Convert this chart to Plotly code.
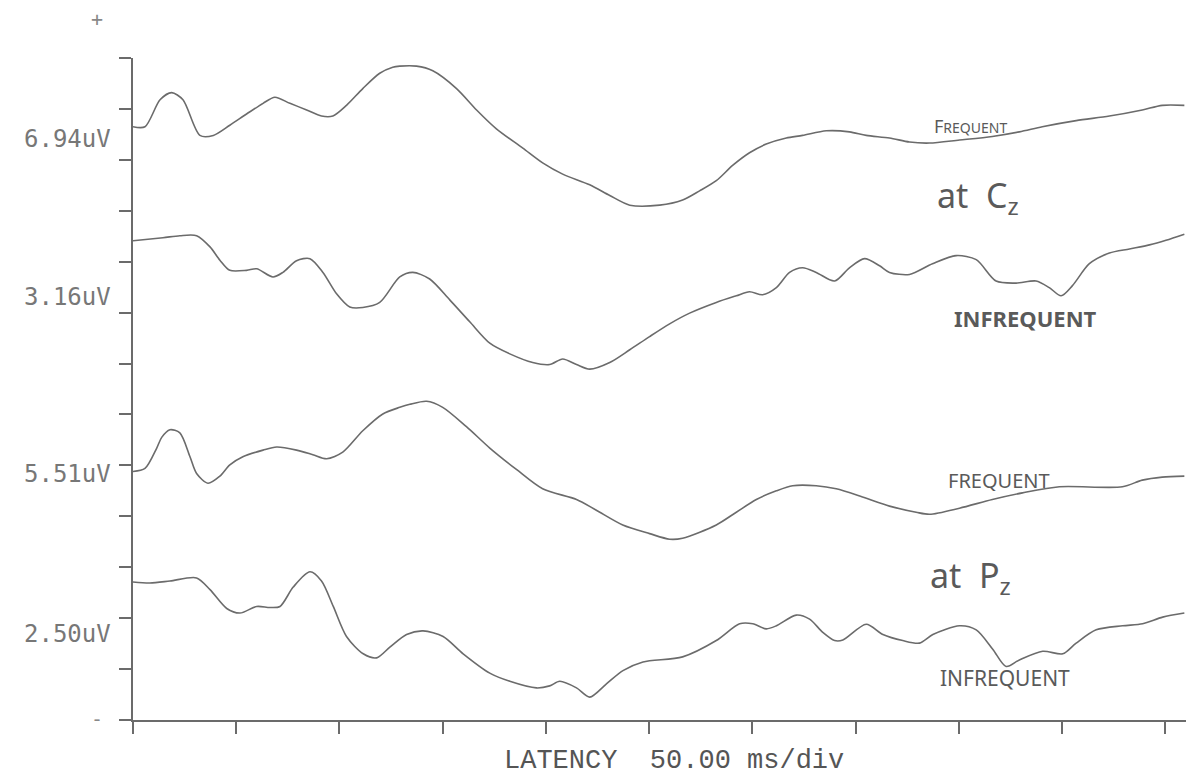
import plotly.graph_objects as go

# Latency (ms) and trace level (in vertical divisions) for the four averaged ERP traces
cz_freq_ms = [0, 5.8, 13.1, 18.7, 24.2, 32.4, 38.9, 46.9, 55.0, 63.0, 68.7, 76.0, 84.1, 91.3, 96.8, 103.4,
              111.3, 119.5, 125.8, 129.2, 137.3, 145.2, 156.7, 166.4, 176.0, 188.8, 198.4, 208.1, 221.2,
              230.9, 240.6, 255.1, 266.2, 274.4, 282.5, 290.4, 298.6, 306.7, 316.4, 324.3, 335.8, 347.0,
              355.1, 366.4, 376.1, 385.8, 400.3, 416.2, 429.3, 440.4, 456.8, 472.9, 488.8, 498.5, 509.2]
cz_freq_lv = [11.65, 11.65, 12.18, 12.32, 12.18, 11.48, 11.48, 11.68, 11.90, 12.11, 12.23, 12.11, 11.98,
              11.86, 11.86, 12.07, 12.40, 12.70, 12.82, 12.84, 12.84, 12.75, 12.40, 11.98, 11.61, 11.23,
              10.94, 10.72, 10.51, 10.30, 10.11, 10.11, 10.21, 10.39, 10.59, 10.89, 11.14, 11.31, 11.43,
              11.48, 11.57, 11.55, 11.48, 11.43, 11.35, 11.33, 11.39, 11.46, 11.55, 11.65, 11.77, 11.86,
              11.98, 12.07, 12.07]

cz_infreq_ms = [0, 14.5, 22.7, 30.8, 37.3, 42.1, 46.9, 55.0, 59.9, 67.8, 72.6, 79.2, 85.7, 92.0, 98.6,
                105.0, 111.3, 119.5, 129.2, 135.5, 143.7, 153.4, 163.1, 172.8, 182.5, 193.6, 201.8, 208.1,
                214.8, 221.2, 230.9, 240.6, 250.2, 259.9, 269.6, 282.5, 292.2, 298.6, 304.9, 311.6, 318.0,
                324.3, 330.9, 339.8, 347.0, 354.3, 361.6, 366.4, 376.1, 387.2, 398.7, 408.4, 418.0, 427.7,
                437.4, 443.8, 449.5, 455.0, 463.2, 472.9, 482.6, 492.3, 500.3, 509.2]
cz_infreq_lv = [9.41, 9.47, 9.51, 9.51, 9.29, 9.03, 8.83, 8.83, 8.86, 8.70, 8.79, 9.02, 9.06, 8.79, 8.37,
                8.11, 8.10, 8.20, 8.70, 8.79, 8.66, 8.25, 7.82, 7.40, 7.19, 7.02, 6.98, 7.09, 6.98, 6.89,
                7.02, 7.27, 7.53, 7.78, 7.99, 8.20, 8.33, 8.41, 8.35, 8.49, 8.79, 8.88, 8.79, 8.62, 8.88,
                9.06, 8.92, 8.79, 8.75, 8.96, 9.12, 9.04, 8.62, 8.58, 8.62, 8.49, 8.33, 8.53, 8.96, 9.17,
                9.25, 9.33, 9.42, 9.54]

pz_freq_ms = [0, 5.8, 11.5, 13.9, 17.9, 22.7, 27.6, 30.8, 36.3, 42.1, 46.9, 53.2, 63.0, 69.6, 79.2, 87.1,
              93.8, 101.6, 111.3, 121.0, 129.2, 134.1, 142.2, 150.0, 161.5, 172.8, 185.7, 198.4, 214.8,
              224.4, 237.2, 250.2, 259.9, 266.2, 282.5, 292.2, 301.9, 311.6, 319.5, 330.9, 340.6, 353.3,
              366.4, 379.3, 385.8, 400.3, 416.2, 430.8, 448.7, 479.2, 488.8, 498.5, 509.2]
pz_freq_lv = [4.88, 4.94, 5.34, 5.55, 5.70, 5.64, 5.17, 4.84, 4.65, 4.79, 5.01, 5.17, 5.30, 5.36, 5.30,
              5.21, 5.13, 5.26, 5.68, 6.01, 6.14, 6.20, 6.26, 6.14, 5.76, 5.34, 4.92, 4.54, 4.33, 4.12,
              3.83, 3.66, 3.55, 3.57, 3.83, 4.08, 4.33, 4.50, 4.60, 4.60, 4.54, 4.38, 4.20, 4.08, 4.04,
              4.16, 4.33, 4.46, 4.58, 4.58, 4.71, 4.77, 4.79]

pz_infreq_ms = [0, 8.2, 17.9, 30.8, 37.3, 45.4, 51.8, 59.9, 66.3, 71.2, 77.6, 85.7, 91.3, 97.0, 103.4,
                111.5, 118.0, 124.4, 132.5, 140.5, 150.2, 159.9, 172.8, 182.5, 195.4, 201.8, 206.7, 214.8,
                221.2, 229.3, 237.3, 247.0, 266.2, 282.5, 293.8, 300.2, 306.7, 311.6, 321.2, 327.7, 334.1,
                339.8, 343.8, 355.1, 363.2, 372.8, 380.9, 387.4, 400.3, 408.4, 416.4, 422.9, 429.3, 440.6,
                450.3, 456.8, 466.5, 479.3, 489.0, 498.7, 509.2]
pz_infreq_lv = [2.71, 2.69, 2.73, 2.79, 2.56, 2.19, 2.10, 2.23, 2.21, 2.23, 2.61, 2.91, 2.73, 2.23, 1.64,
                1.30, 1.22, 1.43, 1.68, 1.75, 1.64, 1.30, 0.92, 0.76, 0.63, 0.67, 0.76, 0.63, 0.45, 0.71,
                0.97, 1.14, 1.24, 1.56, 1.89, 1.89, 1.79, 1.85, 2.06, 1.98, 1.72, 1.56, 1.57, 1.88, 1.68,
                1.56, 1.51, 1.68, 1.85, 1.77, 1.39, 1.05, 1.18, 1.35, 1.30, 1.51, 1.77, 1.85, 1.89, 2.02,
                2.10]

scale_labels = ["6.94uV", "3.16uV", "5.51uV", "2.50uV"]
scale_label_lv = [11.4, 8.3, 4.84, 1.68]

X_MAX = 510.0   # ms shown on the latency axis
Y_MAX = 13.0    # vertical divisions
INK = "#6b6b6b"

fig = go.Figure()
for xs, ys in [(cz_freq_ms, cz_freq_lv), (cz_infreq_ms, cz_infreq_lv),
               (pz_freq_ms, pz_freq_lv), (pz_infreq_ms, pz_infreq_lv)]:
    fig.add_trace(go.Scatter(x=xs, y=ys, mode="lines",
                             line=dict(color=INK, width=1.6, shape="spline", smoothing=0.8),
                             showlegend=False, hoverinfo="skip"))

L, R, T, B = 133, 10, 58, 58
W, H = 1196, 778
pw, ph = W - L - R, H - T - B


def px(xp):
    return (xp - L) / pw


def py(yp):
    return (H - B - yp) / ph


def label(text, xp, yp, size, color, family, xanchor="center"):
    return dict(x=px(xp), y=py(yp), xref="paper", yref="paper", text=text, showarrow=False,
                xanchor=xanchor, yanchor="middle",
                font=dict(family=family, size=size, color=color))


ann = []
# amplitude scale labels left of the axis
for lab, lv in zip(scale_labels, scale_label_lv):
    ann.append(dict(x=-0.019, y=lv / Y_MAX, xref="paper", yref="paper", text=lab,
                    showarrow=False, xanchor="right", yanchor="middle",
                    font=dict(family="DejaVu Sans Mono", size=24, color="#777777")))
ann.append(label("+", 97, 19, 20, "#888888", "DejaVu Sans Mono"))
ann.append(label("-", 97, 719, 20, "#888888", "DejaVu Sans Mono"))
ann.append(label("LATENCY\u00a0\u00a050.00\u00a0ms/div", 674, 761, 27, "#555555", "Liberation Mono"))

# hand-written condition labels
hand = [("F<span style='font-size:14px'>REQUENT</span>", 970, 126, 18),
        ("at\u00a0\u00a0C<sub>z</sub>", 978, 197, 34),
        ("<b>INFREQUENT</b>", 1025, 318, 22),
        ("FREQUENT", 999, 481, 20),
        ("at\u00a0\u00a0P<sub>z</sub>", 970, 577, 34),
        ("INFREQUENT", 1005, 678, 21)]
for txt, x0, y0, sz in hand:
    ann.append(label(txt, x0, y0, sz, "#5a5a5a", "Noto Sans"))

fig.update_layout(
    width=W, height=H,
    margin=dict(l=L, r=R, t=T, b=B),
    paper_bgcolor="white", plot_bgcolor="white",
    annotations=ann,
    xaxis=dict(range=[0, X_MAX], showgrid=False, zeroline=False, showline=True, linecolor=INK,
               linewidth=1.5, ticks="outside", tickmode="linear", tick0=0, dtick=50, ticklen=12,
               tickcolor=INK, tickwidth=1.5, showticklabels=False),
    yaxis=dict(range=[0, Y_MAX], showgrid=False, zeroline=False, showline=True, linecolor=INK,
               linewidth=1.5, ticks="outside", tickmode="linear", tick0=0, dtick=1, ticklen=12,
               tickcolor=INK, tickwidth=1.5, showticklabels=False),
)

fig.write_html("out.html")
